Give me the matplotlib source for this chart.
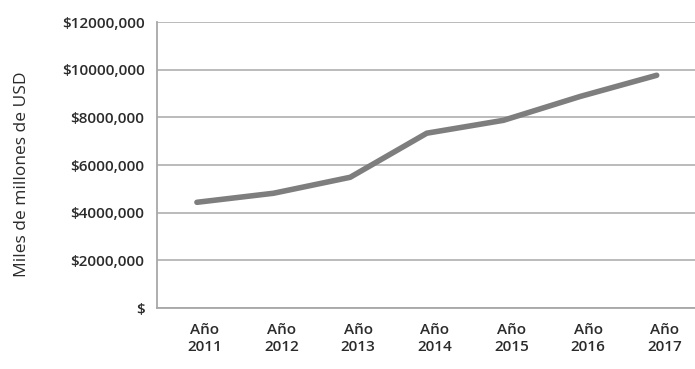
import matplotlib

matplotlib.use("Agg")
import matplotlib.pyplot as plt
import matplotlib.transforms as mtransforms
from matplotlib.ticker import FuncFormatter

years = ["2011", "2012", "2013", "2014", "2015", "2016", "2017"]
values = [4440000, 4820000, 5490000, 7340000, 7880000, 8880000, 9770000]
y_ticks = [0, 2000000, 4000000, 6000000, 8000000, 10000000, 12000000]


def money(v, pos):
    if v == 0:
        return "$"
    return "${:d},000".format(int(v // 1000))


plt.rcParams["font.family"] = ["Open Sans", "DejaVu Sans"]

fig = plt.figure(figsize=(6.95, 3.69), dpi=100)
ax = fig.add_axes([0.226, 0.165, 0.774, 0.775])

x = list(range(len(years)))
ax.plot(x, values, color="#7e7e7e", lw=4, solid_capstyle="round",
        solid_joinstyle="round", zorder=3)

ax.set_xlim(-0.52, 6.5)
ax.set_ylim(0, 12000000)
ax.set_yticks(y_ticks)
ax.yaxis.set_major_formatter(FuncFormatter(money))
ax.set_xticks(x)
ax.set_xticklabels(["Año\n" + y for y in years])

ax.grid(axis="y", color="#b5b5b5", lw=1.3)
ax.set_axisbelow(True)
for side in ["top", "right"]:
    ax.spines[side].set_visible(False)
for side in ["left", "bottom"]:
    ax.spines[side].set_color("#a8a8a8")
    ax.spines[side].set_linewidth(1.3)

ax.tick_params(axis="both", length=0, colors="#2b2b2b", labelsize=11)
ax.tick_params(axis="y", pad=9)
ax.tick_params(axis="x", pad=11)
for lbl in ax.get_yticklabels() + ax.get_xticklabels():
    lbl.set_fontweight("semibold")
    lbl.set_linespacing(1.25)

# x labels sit a bit right of the data points in the original
shift = mtransforms.ScaledTranslation(8 / 100, 0, fig.dpi_scale_trans)
for lbl in ax.get_xticklabels():
    lbl.set_transform(lbl.get_transform() + shift)

fig.text(0.032, 0.528, "Miles de millones de USD", rotation=90,
         ha="center", va="center", fontsize=12.5, color="#2b2b2b")

fig.savefig("out.png", dpi=100)
